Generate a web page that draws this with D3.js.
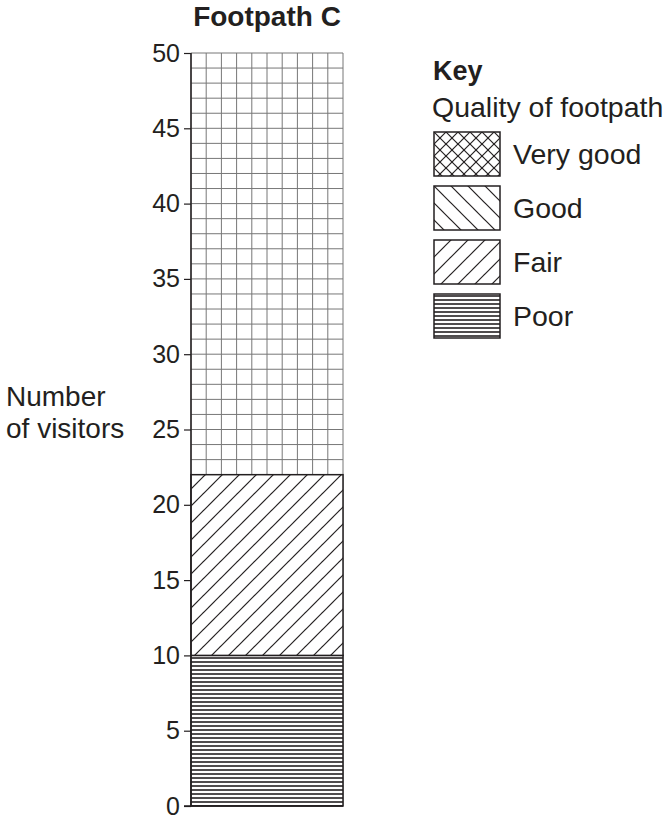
<!DOCTYPE html>
<html>
<head>
<meta charset="utf-8">
<script src="https://cdn.jsdelivr.net/npm/d3@7"></script>
<style>
  body { margin: 0; background: #fff; }
  text { font-family: "Liberation Sans", Arial, sans-serif; fill: #231f20; }
</style>
</head>
<body>
<svg id="chart" width="670" height="821"></svg>
<script>
// data
var footpath = "Footpath C";
var qualities = ["Very good", "Good", "Fair", "Poor"];
var stackOrder = ["Poor", "Fair", "Good", "Very good"];
var visitors = [10, 12, 0, 0];   // matches stackOrder
var yMax = 50;
var yTicks = [0, 5, 10, 15, 20, 25, 30, 35, 40, 45, 50];
var gridColumns = 10;

var svg = d3.select("#chart");

var y = d3.scaleLinear().domain([0, yMax]).range([806, 53]);
var x = d3.scaleBand().domain([footpath]).range([191, 343]).padding(0);

/*========== Patterns ===========*/
var defs = svg.append("defs");

function addPattern(id, size, paths, width) {
    var p = defs.append("pattern")
        .attr("id", id)
        .attr("patternUnits", "userSpaceOnUse")
        .attr("width", size)
        .attr("height", size);
    p.append("rect").attr("width", size).attr("height", size).attr("fill", "#fff");
    paths.forEach(function (d) {
        p.append("path").attr("d", d)
            .attr("stroke", "#231f20")
            .attr("stroke-width", width)
            .attr("fill", "none");
    });
}
addPattern("pat-Poor", 4, ["M0,2 H4"], 1.6);
addPattern("pat-Fair", 17, ["M0,17 L17,0", "M-4,4 L4,-4", "M13,21 L21,13"], 1.2);
addPattern("pat-Good", 17, ["M0,0 L17,17", "M-4,13 L4,21", "M13,-4 L21,4"], 1.2);
addPattern("pat-Very-good", 12,
    ["M0,12 L12,0", "M-3,3 L3,-3", "M9,15 L15,9", "M0,0 L12,12", "M-3,9 L3,15", "M9,-3 L15,3"], 1.2);

function patUrl(q) { return "url(#pat-" + q.replace(" ", "-") + ")"; }

/*========== Grid ===========*/
var x0 = x(footpath), bw = x.bandwidth();
var grid = svg.append("g").attr("class", "grid");
grid.selectAll(".h").data(d3.range(0, yMax + 1)).enter().append("line")
    .attr("x1", x0).attr("x2", x0 + bw)
    .attr("y1", function (d) { return y(d); })
    .attr("y2", function (d) { return y(d); })
    .attr("stroke", "#777").attr("stroke-width", 1);
grid.selectAll(".v").data(d3.range(0, gridColumns + 1)).enter().append("line")
    .attr("x1", function (d) { return x0 + d * bw / gridColumns; })
    .attr("x2", function (d) { return x0 + d * bw / gridColumns; })
    .attr("y1", y(0)).attr("y2", y(yMax))
    .attr("stroke", "#777").attr("stroke-width", 1);

/*========== Stacked bar ===========*/
var stack = [], acc = 0;
stackOrder.forEach(function (q, i) {
    stack.push({ q: q, y0: acc, y1: acc + visitors[i] });
    acc += visitors[i];
});
svg.append("g").selectAll("rect")
    .data(stack.filter(function (d) { return d.y1 > d.y0; }))
    .enter().append("rect")
    .attr("x", x0)
    .attr("width", bw)
    .attr("y", function (d) { return y(d.y1); })
    .attr("height", function (d) { return y(d.y0) - y(d.y1); })
    .attr("fill", function (d) { return patUrl(d.q); })
    .attr("stroke", "#231f20")
    .attr("stroke-width", 1.5);

/*========== Axis ===========*/
var axis = d3.axisLeft(y).tickValues(yTicks).tickSize(7).tickPadding(4);
var ag = svg.append("g").attr("transform", "translate(" + x0 + ",0)").call(axis);
ag.select(".domain").attr("stroke", "#231f20").attr("stroke-width", 1.5)
    .attr("d", "M0," + y(0) + "V" + y(yMax));
ag.selectAll(".tick line").attr("stroke", "#231f20").attr("stroke-width", 1.2);
ag.selectAll(".tick text")
    .style("font-family", "'Liberation Sans', Arial, sans-serif")
    .style("font-size", "25px").attr("fill", "#231f20");
// base line
svg.append("line").attr("x1", x0 - 7).attr("x2", x0 + bw)
    .attr("y1", y(0)).attr("y2", y(0))
    .attr("stroke", "#231f20").attr("stroke-width", 1.5);

/*========== Titles ===========*/
svg.append("text").attr("x", x0 + bw / 2).attr("y", 26)
    .attr("text-anchor", "middle")
    .style("font-size", "28px").style("font-weight", "bold")
    .text(footpath);
svg.append("text").attr("x", 6).attr("y", 406).style("font-size", "28px").text("Number");
svg.append("text").attr("x", 6).attr("y", 438).style("font-size", "28px").text("of visitors");

/*========== Key ===========*/
var key = svg.append("g").attr("transform", "translate(432,0)");
key.append("text").attr("x", 1).attr("y", 80)
    .style("font-size", "27px").style("font-weight", "bold").text("Key");
key.append("text").attr("x", 0).attr("y", 117)
    .style("font-size", "28.5px").text("Quality of footpath");
var item = key.selectAll(".item").data(qualities).enter().append("g")
    .attr("transform", function (d, i) { return "translate(2," + (132 + i * 54) + ")"; });
item.append("rect").attr("width", 66).attr("height", 44)
    .attr("fill", function (d) { return patUrl(d); })
    .attr("stroke", "#231f20").attr("stroke-width", 1.5);
item.append("text").attr("x", 79).attr("y", 32)
    .style("font-size", "28.5px").text(function (d) { return d; });
</script>
</body>
</html>
